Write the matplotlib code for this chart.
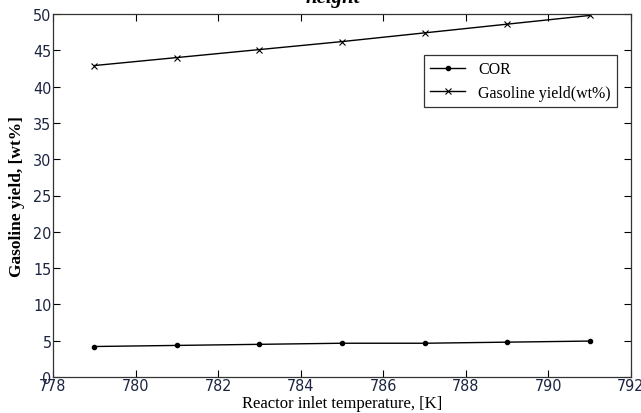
import matplotlib
matplotlib.use("Agg")
import matplotlib.pyplot as plt

# reactor inlet temperature [K]
temps = [779, 781, 783, 785, 787, 789, 791]
cor = [4.2, 4.35, 4.5, 4.65, 4.65, 4.8, 4.95]
gasoline = [42.9, 44.0, 45.1, 46.2, 47.4, 48.6, 49.8]

xticks = [778, 780, 782, 784, 786, 788, 790, 792]
yticks = [0, 5, 10, 15, 20, 25, 30, 35, 40, 45, 50]

serif = ['Liberation Serif', 'DejaVu Serif']

fig = plt.figure(figsize=(6.41, 4.14), dpi=100)
ax = fig.add_axes([53/641, 1 - 378/414, 578/641, 363/414])

ax.plot(temps, cor, '-', color='black', lw=1.0, marker='o', markersize=3, label='COR')
ax.plot(temps, gasoline, '-', color='black', lw=1.0, marker='x', markersize=4,
        markeredgewidth=0.8, label='Gasoline yield(wt%)')

ax.set_xlim(778, 792)
ax.set_ylim(0, 50)
ax.set_xticks(xticks)
ax.set_yticks(yticks)
ax.tick_params(direction='in', top=True, right=True, length=5, width=0.8,
               labelsize=11.5, labelcolor='#1c2540', pad=1)
for lab in ax.get_xticklabels() + ax.get_yticklabels():
    lab.set_family('DejaVu Sans')
    lab.set_fontstretch('condensed')
for s in ax.spines.values():
    s.set_linewidth(0.9)
    s.set_color('#333333')

ax.set_xlabel('Reactor inlet temperature, [K]', family=serif, fontsize=12, labelpad=1)
ax.set_ylabel('Gasoline yield, [wt%]', family=serif, fontsize=12.5, fontweight='bold', labelpad=6)

leg = ax.legend(loc='upper right', bbox_to_anchor=(0.976, 0.887), borderaxespad=0,
                prop={'family': serif, 'size': 11.5}, fancybox=False, framealpha=1,
                edgecolor='#333333', handlelength=2.2, borderpad=0.4, labelspacing=0.45)
leg.get_frame().set_linewidth(0.9)

# title cut off at the top of the picture
fig.text(0.52, 1 - 2.5/414, 'height', family=serif, fontsize=15, fontweight='bold',
         fontstyle='italic', ha='center', va='baseline')

fig.savefig('out.png', dpi=100)
